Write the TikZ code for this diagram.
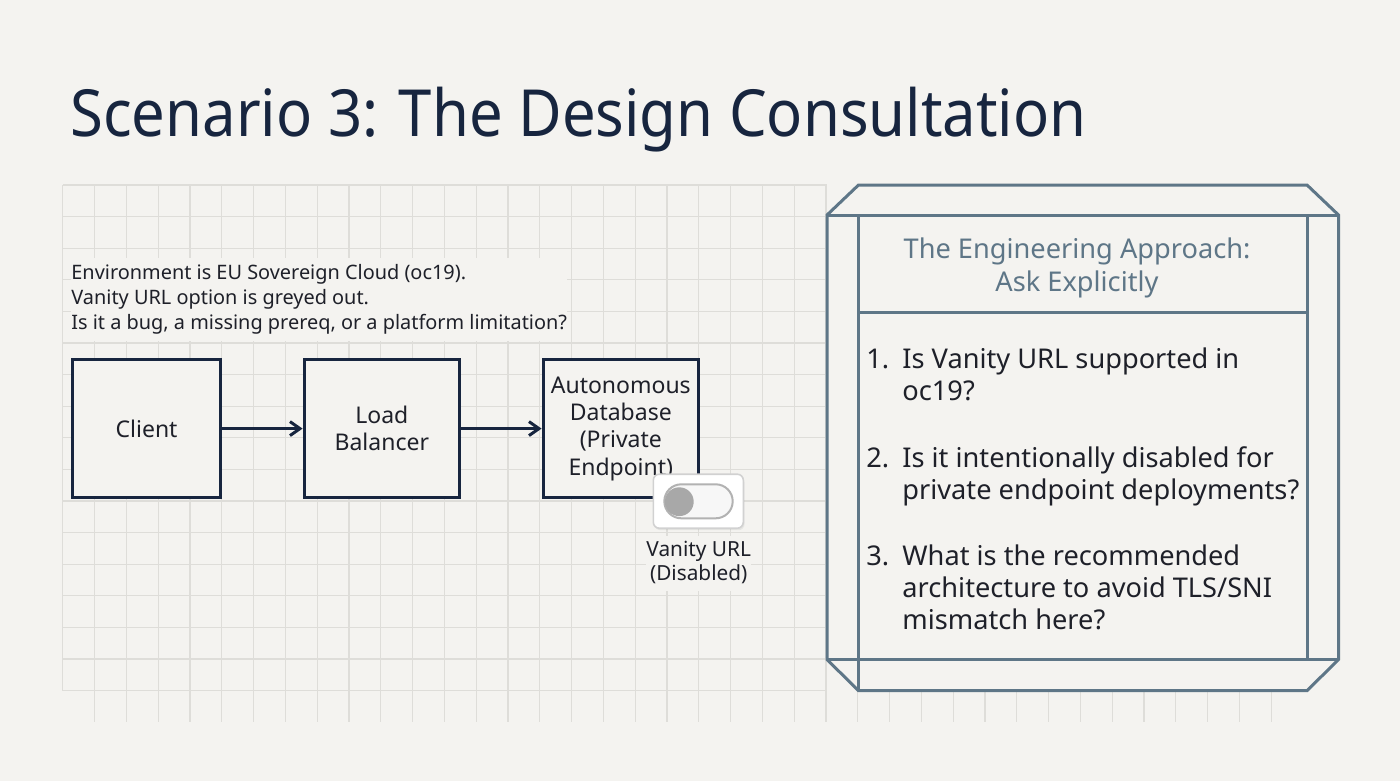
\documentclass[tikz,border=0pt]{standalone}
\usepackage{fontspec}
\setmainfont{Noto Sans}
\usetikzlibrary{arrows.meta,shadows}
\definecolor{paper}{HTML}{F4F3F0}
\definecolor{gridc}{HTML}{DEDDD9}
\definecolor{navy}{HTML}{17253F}
\definecolor{slate}{HTML}{5E7687}
\definecolor{ink}{HTML}{1E2029}
\definecolor{knob}{HTML}{A8A8A8}
\begin{document}
\begin{tikzpicture}[x=0.5pt,y=-0.5pt,
    gridline/.style={draw=gridc, line width=0.6pt},
    blk/.style={draw=navy, line width=1.6pt, fill=paper, text=ink, align=center,
      minimum height=68.8pt, font=\fontsize{11.5}{13.65}\selectfont},
    arr/.style={draw=navy, line width=1.5pt, -{Straight Barb[length=5pt,width=7pt]}},
    txt/.style={text=ink, inner xsep=0pt, inner ysep=2pt, fill=paper},
    itm/.style={anchor=base west, inner sep=0pt, text=ink, font=\fontsize{13.6}{16}\selectfont},
    frame/.style={draw=slate, line width=1.5pt}]
    \useasboundingbox (0,0) rectangle (1400,781);
    \fill[paper] (0,0) rectangle (1400,781);
    \foreach \i in {0,...,24} \draw[gridline] ({62.7+31.8*\i},185) -- ({62.7+31.8*\i},690.7);
    \foreach \j in {0,...,16} \draw[gridline] (62.7,{185+31.6*\j}) -- (826.7,{185+31.6*\j});
    \foreach \i in {1,...,38} \draw[gridline] ({62.7+31.8*\i},690.7) -- ({62.7+31.8*\i},722);

    \node[anchor=base west, inner sep=0pt, text=navy, font=\fontsize{32.5}{40}\selectfont\addfontfeatures{FakeStretch=0.92}] (title) at (70,136) {Scenario 3: The Design Consultation};

    \node[txt, anchor=base west, font=\fontsize{9.95}{12.5}\selectfont] (desc) at (71,279.3) {\begin{tabular}[t]{@{}l@{}}Environment is EU Sovereign Cloud (oc19).\\ Vanity URL option is greyed out.\\ Is it a bug, a missing prereq, or a platform limitation?\end{tabular}};

    \node[blk, minimum width=74pt] (client) at (146.6,428.6) {Client};
    \node[blk, minimum width=77.6pt] (lb) at (381.8,428.6) {Load\\Balancer};
    \node[blk, minimum width=77.6pt] (adb) at (620.8,428.6) {Autonomous\\Database\\(Private\\Endpoint)};
    \draw[arr] (client) -- (lb);
    \draw[arr] (lb) -- (adb);

    \node[draw=black!18, line width=0.8pt, fill=white, rounded corners=3pt, minimum width=45pt, minimum height=27pt,
      drop shadow={opacity=0.12, shadow xshift=0.6pt, shadow yshift=-1pt}] (toggle) at (698.3,501.2) {};
    \draw[draw=black!30, line width=1pt, fill=black!3, rounded corners=8.5pt] (664.3,484.3) rectangle (732.7,518.3);
    \fill[knob] (679.3,501.7) circle[radius=7.2pt];
    \node[txt, anchor=base, font=\fontsize{10.4}{11.7}\selectfont] (vanity) at (698.7,556.7) {\begin{tabular}[t]{@{}c@{}}Vanity URL\\(Disabled)\end{tabular}};

    \filldraw[frame, fill=paper] (858.5,185) -- (1307,185) -- (1338.5,215) -- (1338.5,659.5) -- (1307,690.7)
      -- (858.5,690.7) -- (827,659.5) -- (827,215) -- cycle;
    \draw[frame] (827,215) -- (1338.5,215);
    \draw[frame] (827,659.5) -- (1338.5,659.5);
    \draw[frame] (858.5,215) -- (858.5,690.7);
    \draw[frame] (1307,215) -- (1307,659.5);
    \draw[frame] (858.5,312) -- (1307,312);

    \node[anchor=base, inner sep=0pt, text=slate, font=\fontsize{13.6}{16.5}\selectfont] (head) at (1077,258.4) {\begin{tabular}[t]{@{}c@{}}The Engineering Approach:\\Ask Explicitly\end{tabular}};
    \node[itm] (q1) at (866,368.5) {\begin{tabular}[t]{@{}p{18pt}@{}l@{}}1. & Is Vanity URL supported in\\ & oc19?\end{tabular}};
    \node[itm] (q2) at (866,467) {\begin{tabular}[t]{@{}p{18pt}@{}l@{}}2. & Is it intentionally disabled for\\ & private endpoint deployments?\end{tabular}};
    \node[itm] (q3) at (866,565) {\begin{tabular}[t]{@{}p{18pt}@{}l@{}}3. & What is the recommended\\ & architecture to avoid TLS/SNI\\ & mismatch here?\end{tabular}};
\end{tikzpicture}
\end{document}
